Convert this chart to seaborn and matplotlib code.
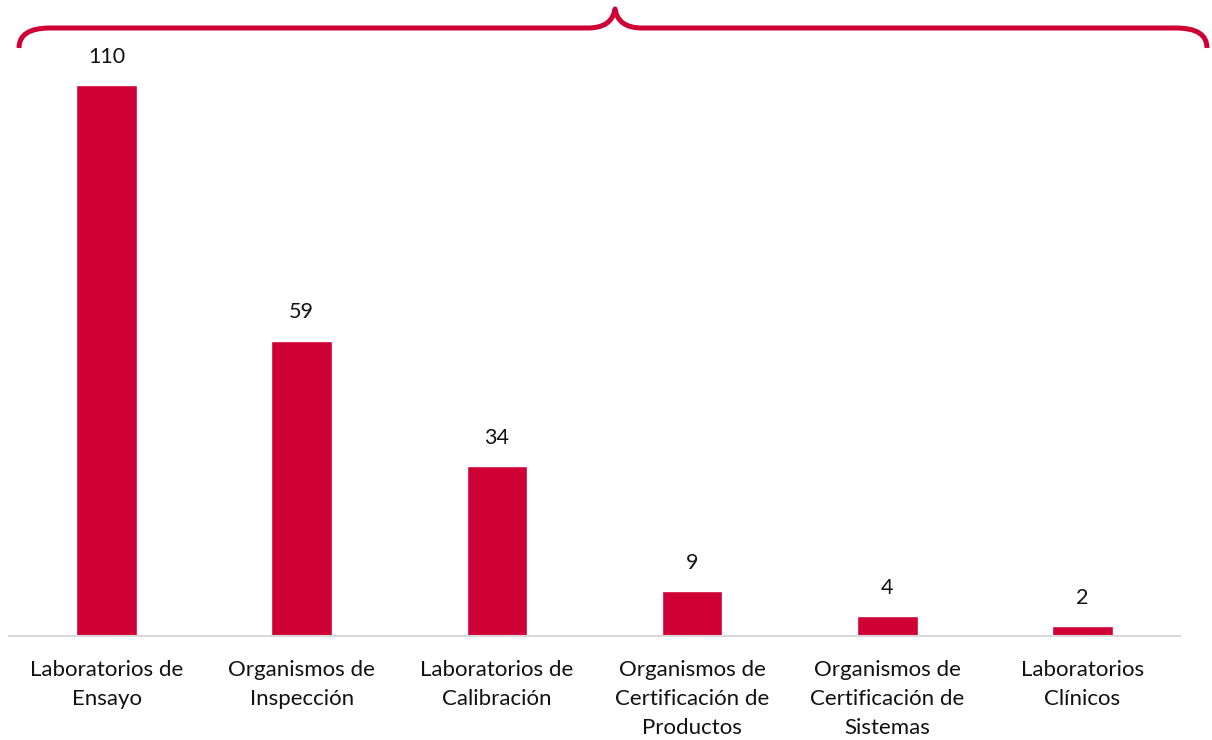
import matplotlib
matplotlib.use('Agg')
import matplotlib.pyplot as plt
import seaborn as sns
import pandas as pd
from matplotlib.path import Path
from matplotlib.patches import PathPatch

categories = [
    'Laboratorios de\nEnsayo',
    'Organismos de\nInspección',
    'Laboratorios de\nCalibración',
    'Organismos de\nCertificación de\nProductos',
    'Organismos de\nCertificación de\nSistemas',
    'Laboratorios\nClínicos',
]
values = [110, 59, 34, 9, 4, 2]

RED = '#CF0036'

sns.set_theme(style='white')
plt.rcParams['font.family'] = ['Lato', 'DejaVu Sans']

W, H = 1212, 740
fig = plt.figure(figsize=(W / 100, H / 100), dpi=100)
ax = fig.add_axes([9 / W, 1 - 636 / H, (1180 - 9) / W, 600 / H])

df = pd.DataFrame({'cat': categories, 'val': values})
sns.barplot(data=df, x='cat', y='val', color=RED, width=0.31, saturation=1, ax=ax)

ax.set_xlim(-0.5, 5.5)
ax.set_ylim(0, 119.8)
for c in ax.containers:
    ax.bar_label(c, labels=[str(v) for v in values], padding=13, fontsize=15.5, color='#111111')

ax.set_xlabel('')
ax.set_ylabel('')
ax.set_yticks([])
ax.tick_params(axis='x', length=0, pad=17, labelsize=16, colors='#111111')
for lbl in ax.get_xticklabels():
    lbl.set_linespacing(1.58)
    lbl.set_verticalalignment('top')
for s in ['top', 'right', 'left']:
    ax.spines[s].set_visible(False)
ax.spines['bottom'].set_color('#D9D9D9')
ax.spines['bottom'].set_linewidth(1.5)


# brace across the top, in pixel coords
def p(x, y):
    return (x / W, 1 - y / H)

verts = [
    p(19, 48), p(19, 28), p(50, 28),
    p(588, 28),
    p(612, 28), p(615, 9),
    p(618, 28), p(642, 28),
    p(1176, 28),
    p(1207, 28), p(1207, 48),
]
codes = [
    Path.MOVETO, Path.CURVE3, Path.CURVE3,
    Path.LINETO,
    Path.CURVE3, Path.CURVE3,
    Path.CURVE3, Path.CURVE3,
    Path.LINETO,
    Path.CURVE3, Path.CURVE3,
]
brace = PathPatch(Path(verts, codes), transform=fig.transFigure, fill=False,
                  edgecolor=RED, linewidth=3.6, capstyle='butt', joinstyle='round')
fig.patches.append(brace)

fig.savefig('out.png', dpi=100)
